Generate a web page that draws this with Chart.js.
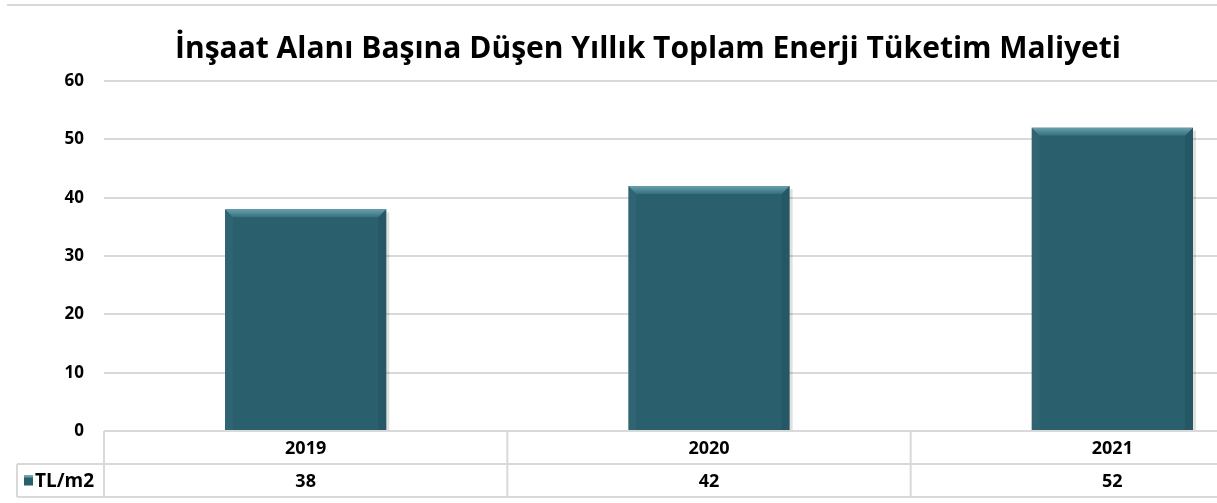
<!DOCTYPE html>
<html>
<head>
<meta charset="utf-8">
<script src="https://cdn.jsdelivr.net/npm/chart.js@4/dist/chart.umd.min.js"></script>
<style>
    html, body { margin: 0; padding: 0; background: #fff; overflow: hidden; }
    #wrap { position: relative; width: 1217px; height: 503px; overflow: hidden; }
    #chart { position: absolute; left: 0; top: 0; }
</style>
</head>
<body>
<div id="wrap"><canvas id="chart" width="1330" height="503"></canvas></div>
<script>
const title = "İnşaat Alanı Başına Düşen Yıllık Toplam Enerji Tüketim Maliyeti"
const years = ["2019", "2020", "2021"]
const seriesName = "TL/m2"
const values = [38, 42, 52]
const yTicks = [0, 10, 20, 30, 40, 50, 60]

const barColor = "#2a5f6e"
const lineGray = "#d9d9d9"
const fontName = "'Open Sans', 'Noto Sans', sans-serif"

// title, top rule, bevel on the bars and the data table under the axis
const extras = {
    id: "extras",
    afterDatasetsDraw(chart) {
        let ctx = chart.ctx
        let meta = chart.getDatasetMeta(0)
        ctx.save()
        meta.data.forEach(function (bar) {
            let p = bar.getProps(["x", "y", "base", "width"], true)
            let l = p.x - p.width / 2, r = p.x + p.width / 2, t = p.y, b = p.base
            let e = 8
            // top bevel
            let g = ctx.createLinearGradient(0, t, 0, t + e)
            g.addColorStop(0, "#6aa0ad")
            g.addColorStop(1, "#34707e")
            ctx.fillStyle = g
            ctx.beginPath()
            ctx.moveTo(l, t); ctx.lineTo(r, t); ctx.lineTo(r - e, t + e); ctx.lineTo(l + e, t + e); ctx.closePath()
            ctx.fill()
            // left edge
            ctx.fillStyle = "rgba(255,255,255,0.03)"
            ctx.beginPath()
            ctx.moveTo(l, t); ctx.lineTo(l + e, t + e); ctx.lineTo(l + e, b); ctx.lineTo(l, b); ctx.closePath()
            ctx.fill()
            // right edge
            ctx.fillStyle = "rgba(0,0,0,0.08)"
            ctx.beginPath()
            ctx.moveTo(r, t); ctx.lineTo(r - e, t + e); ctx.lineTo(r - e, b); ctx.lineTo(r, b); ctx.closePath()
            ctx.fill()
            // soft shadow on the right
            ctx.fillStyle = "rgba(0,0,0,0.12)"
            ctx.fillRect(r, t + 3, 3, b - t - 3)
        })
        ctx.restore()
    },
    afterDraw(chart) {
        let ctx = chart.ctx
        let x = chart.scales.x
        let area = chart.chartArea
        let step = x.width / years.length
        let row1 = area.bottom, row2 = row1 + 33, row3 = row2 + 33
        let legendLeft = 17

        ctx.save()
        // rule at the top
        ctx.strokeStyle = lineGray
        ctx.lineWidth = 2
        ctx.beginPath()
        ctx.moveTo(7, 5); ctx.lineTo(chart.width, 5)
        ctx.stroke()

        // title
        ctx.fillStyle = "#000"
        ctx.font = "bold 30px " + fontName
        ctx.textAlign = "center"
        ctx.textBaseline = "alphabetic"
        ctx.fillText(title, 648, 58)

        // table lines
        ctx.strokeStyle = lineGray
        ctx.lineWidth = 2
        ctx.beginPath()
        ctx.moveTo(area.left, row1); ctx.lineTo(area.right, row1)
        ctx.moveTo(legendLeft, row2); ctx.lineTo(area.right, row2)
        ctx.moveTo(legendLeft, row3); ctx.lineTo(area.right, row3)
        ctx.moveTo(legendLeft, row2); ctx.lineTo(legendLeft, row3)
        for (let i = 0; i <= years.length; i++) {
            let vx = area.left + i * step
            ctx.moveTo(vx, row1); ctx.lineTo(vx, row3)
        }
        ctx.stroke()

        // table text
        ctx.fillStyle = "#000"
        ctx.font = "bold 18px " + fontName
        ctx.textAlign = "center"
        ctx.textBaseline = "middle"
        years.forEach(function (y, i) {
            let cx = x.getPixelForValue(i)
            ctx.fillText(y, cx, (row1 + row2) / 2 + 1)
            ctx.fillText(String(values[i]), cx, (row2 + row3) / 2 + 1)
        })

        // legend key
        ctx.fillStyle = barColor
        ctx.fillRect(24, (row2 + row3) / 2 - 5, 9, 10)
        ctx.fillStyle = "#6aa0ad"
        ctx.fillRect(24, (row2 + row3) / 2 - 5, 9, 2)
        ctx.fillStyle = "#000"
        ctx.textAlign = "left"
        ctx.font = "bold 19px " + fontName
        ctx.fillText(seriesName, 35, (row2 + row3) / 2 + 1)
        ctx.restore()
    }
}

let ctx = document.getElementById("chart")
let chart = new Chart(ctx, {
    type: "bar",
    data: {
        labels: years,
        datasets: [{
            label: seriesName,
            data: values,
            backgroundColor: barColor,
            borderWidth: 0,
            categoryPercentage: 1,
            barPercentage: 0.4
        }]
    },
    options: {
        responsive: false,
        animation: false,
        layout: { padding: { top: 81, right: 16, bottom: 72, left: 0 } },
        plugins: {
            legend: { display: false },
            title: { display: false },
            tooltip: { enabled: false }
        },
        scales: {
            x: { display: false },
            y: {
                min: yTicks[0],
                max: yTicks[yTicks.length - 1],
                afterFit: function (scale) { scale.width = 104 },
                afterBuildTicks: function (scale) {
                    scale.ticks = yTicks.map(function (v) { return { value: v } })
                },
                border: { display: false },
                grid: { color: lineGray, lineWidth: 2, drawTicks: false },
                ticks: {
                    padding: 20,
                    color: "#000",
                    font: { family: fontName, size: 17, weight: "bold" }
                }
            }
        }
    },
    plugins: [extras]
})
</script>
</body>
</html>
